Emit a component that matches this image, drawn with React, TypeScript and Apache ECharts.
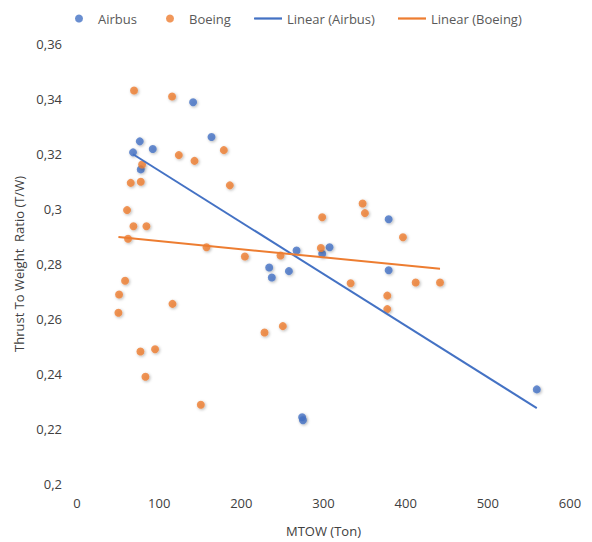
import React, { useEffect, useRef } from "react";
import * as echarts from "echarts";

const airbusX = [76.4, 68.2, 92.2, 77.6, 141.3, 163.7, 379.3, 267.2, 307.4, 298.4, 233.9, 237.1, 257.9, 379.3, 274, 275, 559.6];
const airbusY = [0.3246, 0.3206, 0.3218, 0.3144, 0.3388, 0.3262, 0.2963, 0.2849, 0.2861, 0.2837, 0.2787, 0.2751, 0.2774, 0.2777, 0.2243, 0.2232, 0.2344];

const boeingX = [69.4, 115.7, 123.9, 143, 79.2, 65.4, 77.6, 178.7, 186, 60.9, 68.7, 84.5, 62.1, 157.6, 58.5, 51.2, 116.2, 50.4, 77.2, 95, 83.3, 150.7, 347.6, 350.4, 298.4, 396.7, 204.3, 247.7, 296.8, 333, 412.2, 377.6, 377.6, 228.2, 250.5, 441.8];
const boeingY = [0.3431, 0.3409, 0.3196, 0.3175, 0.3162, 0.3095, 0.3099, 0.3214, 0.3086, 0.2996, 0.2937, 0.2937, 0.2892, 0.2861, 0.2739, 0.2689, 0.2655, 0.2623, 0.2482, 0.249, 0.239, 0.2288, 0.302, 0.2985, 0.297, 0.2897, 0.2827, 0.2831, 0.2858, 0.273, 0.2733, 0.2685, 0.2636, 0.2551, 0.2574, 0.2733];

const seriesNames = ["Airbus", "Boeing", "Linear (Airbus)", "Linear (Boeing)"];
const xTitle = "MTOW (Ton)";
const yTitle = "Thrust To Weight  Ratio (T/W)";

const BLUE = "#4472C4";
const ORANGE = "#ED7D31";
const LEGEND_TEXT = "#595959";
const AXIS_TEXT = "#404040";
const FONT = "'Open Sans', sans-serif";
const LINE_ICON = "path://M0,0L30,0L30,2.4L0,2.4Z";

function fit(xs: number[], ys: number[]): number[][] {
  const n = xs.length;
  const mx = xs.reduce((a, b) => a + b, 0) / n;
  const my = ys.reduce((a, b) => a + b, 0) / n;
  let sxy = 0;
  let sxx = 0;
  for (let i = 0; i < n; i++) {
    sxy += (xs[i] - mx) * (ys[i] - my);
    sxx += (xs[i] - mx) * (xs[i] - mx);
  }
  const b = sxy / sxx;
  const a = my - b * mx;
  const x0 = Math.min(...xs);
  const x1 = Math.max(...xs);
  return [
    [x0, a + b * x0],
    [x1, a + b * x1],
  ];
}

export default function App() {
  const ref = useRef<HTMLDivElement>(null);
  useEffect(() => {
    document.body.style.margin = "0";
    if (!ref.current) return;
    const chart = echarts.init(ref.current, undefined, { renderer: "svg" });
    const pts = (xs: number[], ys: number[]) => xs.map((x, i) => [x, ys[i]]);
    const markerShadow = {
      shadowBlur: 3,
      shadowColor: "rgba(0,0,0,0.35)",
      shadowOffsetX: 1,
      shadowOffsetY: 1,
    };
    const legendBase = {
      top: 7,
      itemWidth: 28,
      itemHeight: 8,
      textStyle: { color: LEGEND_TEXT, fontSize: 13, fontFamily: FONT },
    };
    chart.setOption({
      animation: false,
      backgroundColor: "#ffffff",
      textStyle: { fontFamily: FONT },
      legend: [
        { ...legendBase, left: 70, data: [{ name: seriesNames[0], icon: "circle" }] },
        { ...legendBase, left: 161, data: [{ name: seriesNames[1], icon: "circle" }] },
        { ...legendBase, left: 249, data: [{ name: seriesNames[2], icon: LINE_ICON }] },
        { ...legendBase, left: 393, data: [{ name: seriesNames[3], icon: LINE_ICON }] },
      ],
      grid: { left: 77, right: 22, top: 44, bottom: 53, containLabel: false },
      xAxis: {
        type: "value",
        min: 0,
        max: 600,
        interval: 100,
        name: xTitle,
        nameLocation: "middle",
        nameGap: 40,
        nameTextStyle: { color: AXIS_TEXT, fontSize: 13, fontFamily: FONT },
        axisLine: { show: false },
        axisTick: { show: false },
        splitLine: { show: false },
        axisLabel: { color: AXIS_TEXT, fontSize: 13, margin: 12, fontFamily: FONT },
      },
      yAxis: {
        type: "value",
        min: 0.2,
        max: 0.36,
        interval: 0.02,
        name: yTitle,
        nameLocation: "middle",
        nameGap: 52,
        nameTextStyle: { color: AXIS_TEXT, fontSize: 13, fontFamily: FONT },
        axisLine: { show: false },
        axisTick: { show: false },
        splitLine: { show: false },
        axisLabel: {
          color: AXIS_TEXT,
          fontSize: 13,
          margin: 15,
          fontFamily: FONT,
          formatter: (v: number) => String(parseFloat(v.toFixed(2))).replace(".", ","),
        },
      },
      series: [
        {
          name: seriesNames[0],
          type: "scatter",
          symbolSize: 8,
          itemStyle: { color: BLUE, ...markerShadow },
          data: pts(airbusX, airbusY),
          z: 2,
        },
        {
          name: seriesNames[1],
          type: "scatter",
          symbolSize: 8,
          itemStyle: { color: ORANGE, ...markerShadow },
          data: pts(boeingX, boeingY),
          z: 2,
        },
        {
          name: seriesNames[2],
          type: "line",
          showSymbol: false,
          symbol: "none",
          lineStyle: { color: BLUE, width: 2 },
          itemStyle: { color: BLUE },
          data: fit(airbusX, airbusY),
          z: 3,
        },
        {
          name: seriesNames[3],
          type: "line",
          showSymbol: false,
          symbol: "none",
          lineStyle: { color: ORANGE, width: 2 },
          itemStyle: { color: ORANGE },
          data: fit(boeingX, boeingY),
          z: 3,
        },
      ],
    });
    return () => chart.dispose();
  }, []);
  return <div ref={ref} style={{ width: 592, height: 542 }} />;
}
